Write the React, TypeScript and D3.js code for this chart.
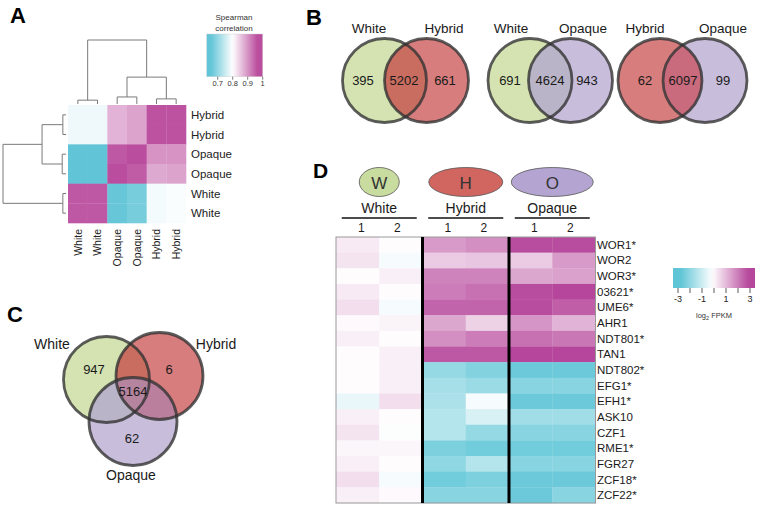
import React from 'react';
import * as d3 from 'd3';

// ---------- Panel A data ----------
const corrColLabels = ['White', 'White', 'Opaque', 'Opaque', 'Hybrid', 'Hybrid'];
const corrRowLabels = ['Hybrid', 'Hybrid', 'Opaque', 'Opaque', 'White', 'White'];
const corrValues = [
  [0.785, 0.785, 0.87, 0.885, 0.96, 0.96],
  [0.785, 0.785, 0.87, 0.885, 0.96, 0.96],
  [0.655, 0.655, 0.955, 0.965, 0.9, 0.9],
  [0.652, 0.652, 0.965, 0.952, 0.88, 0.885],
  [0.955, 0.955, 0.66, 0.675, 0.79, 0.795],
  [0.955, 0.955, 0.66, 0.675, 0.79, 0.795],
];
const corrTicks = [0.7, 0.8, 0.9, 1];
// merges: [childA, childB, height]; leaves 0..5, new nodes from 6
const colMerges = [[0, 1, 0.06], [2, 3, 0.11], [4, 5, 0.08], [7, 8, 0.42], [6, 9, 1]];
const rowMerges = [[0, 1, 0.05], [2, 3, 0.06], [4, 5, 0.05], [6, 7, 0.38], [9, 8, 1]];

// ---------- Panel B data ----------
const vennBSets = [['White', 'Hybrid'], ['White', 'Opaque'], ['Hybrid', 'Opaque']];
const vennBCounts = [[395, 5202, 661], [691, 4624, 943], [62, 6097, 99]];

// ---------- Panel C data ----------
const vennCSets = ['White', 'Hybrid', 'Opaque'];
const vennCOnly = [947, 6, 62];
const vennCAll = 5164;

// ---------- Panel D data ----------
const groups = ['White', 'Hybrid', 'Opaque'];
const groupLetters = ['W', 'H', 'O'];
const replicates = ['1', '2'];
const genes = ['WOR1*', 'WOR2', 'WOR3*', '03621*', 'UME6*', 'AHR1', 'NDT801*', 'TAN1', 'NDT802*', 'EFG1*', 'EFH1*', 'ASK10', 'CZF1', 'RME1*', 'FGR27', 'ZCF18*', 'ZCF22*'];
const fpkm = [
  [0.2, -0.1, 1.5, 1.7, 2.8, 2.8],
  [0.3, -0.3, 0.7, 0.8, 0.7, 1.5],
  [-0.1, 0.1, 1.9, 1.9, 1.3, 1.4],
  [0.2, -0.1, 2.0, 2.2, 2.8, 2.9],
  [0.4, -0.3, 2.4, 2.4, 2.8, 2.5],
  [-0.05, 0.05, 1.3, 0.6, 1.6, 1.1],
  [0.1, -0.1, 1.7, 2.0, 2.2, 2.1],
  [-0.1, 0.1, 2.6, 2.6, 2.9, 2.9],
  [-0.1, 0.1, -1.9, -2.2, -2.6, -2.6],
  [-0.1, 0.1, -1.6, -1.8, -2.1, -2.1],
  [-0.5, 0.4, -1.5, -0.3, -2.6, -2.6],
  [0.1, -0.1, -1.4, -0.8, -1.7, -1.7],
  [0.3, -0.2, -1.4, -1.9, -2.1, -2.1],
  [0.0, 0.0, -2.3, -2.5, -2.5, -2.5],
  [0.1, -0.1, -2.0, -1.4, -2.1, -2.1],
  [0.4, -0.3, -2.5, -2.3, -2.6, -2.6],
  [0.1, -0.05, -2.1, -2.1, -2.6, -2.1],
];
const fpkmTicks = [-3, -2, -1, 0, 1, 2, 3];
const fpkmTickLabels = [-3, -1, 1, 3];

const FONT = 'Liberation Sans, Arial, sans-serif';

const setFill: Record<string, string> = { White: '#d4e3b1', Hybrid: '#d77d7d', Opaque: '#c8bddb' };
const pairFill: Record<string, string> = {
  'White|Hybrid': '#c86d5f',
  'White|Opaque': '#b9b4c7',
  'Hybrid|Opaque': '#c96a7d',
};
const tripleFill = '#b5849f';

function dendroPaths(merges: number[][], leafPos: number[], hs: (h: number) => number, vertical: boolean) {
  const pos = [...leafPos];
  const hgt = leafPos.map(() => 0);
  const paths: string[] = [];
  merges.forEach(([a, b, h]) => {
    const pa = pos[a], pb = pos[b];
    if (vertical) {
      paths.push(`M${pa},${hs(hgt[a])}V${hs(h)}H${pb}V${hs(hgt[b])}`);
    } else {
      paths.push(`M${hs(hgt[a])},${pa}H${hs(h)}V${pb}H${hs(hgt[b])}`);
    }
    pos.push((pa + pb) / 2);
    hgt.push(h);
  });
  return paths;
}

function PanelA() {
  const x = d3.scaleBand<number>().domain(d3.range(6)).range([68, 186]);
  const y = d3.scaleBand<number>().domain(d3.range(6)).range([105, 223]);
  const color = d3.scaleLinear<string>().domain([0.655, 0.8, 0.965]).range(['#62c5d7', '#ffffff', '#bb4d9e']).clamp(true);
  const colPaths = dendroPaths(colMerges, d3.range(6).map(i => x(i)! + x.bandwidth() / 2), d3.scaleLinear().domain([0, 1]).range([104, 40]), true);
  const rowPaths = dendroPaths(rowMerges, d3.range(6).map(i => y(i)! + y.bandwidth() / 2), d3.scaleLinear().domain([0, 1]).range([66, 3]), false);
  const lx = d3.scaleLinear().domain([0.7, 1]).range([217.7, 262.7]);
  const lx0 = 206.7;
  const stops = d3.range(0, 1.0001, 0.05).map(t => {
    const v = lx.invert(lx0 + t * (262.7 - lx0));
    return { off: t, c: color(v) };
  });
  return (
    <g>
      <text x={10} y={23} fontSize={22} fontWeight="bold" fontFamily={FONT}>A</text>
      {corrValues.map((row, i) => row.map((v, j) => (
        <rect key={`${i}-${j}`} x={x(j)} y={y(i)} width={x.bandwidth() + 0.3} height={y.bandwidth() + 0.3} fill={color(v)} />
      )))}
      {colPaths.map((d, i) => <path key={'c' + i} d={d} fill="none" stroke="#7a7a7a" strokeWidth={1} />)}
      {rowPaths.map((d, i) => <path key={'r' + i} d={d} fill="none" stroke="#7a7a7a" strokeWidth={1} />)}
      {corrRowLabels.map((l, i) => (
        <text key={i} x={191} y={y(i)! + y.bandwidth() / 2} dy="0.35em" fontSize={11.5} fontFamily={FONT} fill="#222">{l}</text>
      ))}
      {corrColLabels.map((l, j) => (
        <text key={j} transform={`translate(${x(j)! + x.bandwidth() / 2},229) rotate(-90)`} dy="0.35em" textAnchor="end" fontSize={10.5} fontFamily={FONT} fill="#222">{l}</text>
      ))}
      <defs>
        <linearGradient id="gradA" x1="0" x2="1" y1="0" y2="0">
          {stops.map((s, i) => <stop key={i} offset={s.off} stopColor={s.c} />)}
        </linearGradient>
      </defs>
      <text x={234} y={19.5} textAnchor="middle" fontSize={8} fontFamily={FONT} fill="#333">Spearman</text>
      <text x={234} y={31} textAnchor="middle" fontSize={8} fontFamily={FONT} fill="#333">correlation</text>
      <rect x={lx0} y={34} width={262.7 - lx0} height={42.7} fill="url(#gradA)" stroke="#ccc" strokeWidth={0.4} />
      {corrTicks.map(t => (
        <g key={t}>
          <line x1={lx(t)} x2={lx(t)} y1={76.7} y2={79.7} stroke="#444" strokeWidth={0.7} />
          <text x={lx(t)} y={86} textAnchor="middle" fontSize={7.5} fontFamily={FONT} fill="#333">{t}</text>
        </g>
      ))}
    </g>
  );
}

type Circ = { cx: number; cy: number; r: number; name: string };

function Venn2({ circles, counts, numX, labelX, idx }: { circles: Circ[]; counts: number[]; numX: number[]; labelX: number[]; idx: number }) {
  const [a, b] = circles;
  const id = `clipB${idx}`;
  return (
    <g>
      <defs>
        <clipPath id={id}><circle cx={a.cx} cy={a.cy} r={a.r} /></clipPath>
      </defs>
      <circle cx={a.cx} cy={a.cy} r={a.r} fill={setFill[a.name]} />
      <circle cx={b.cx} cy={b.cy} r={b.r} fill={setFill[b.name]} />
      <circle cx={b.cx} cy={b.cy} r={b.r} fill={pairFill[`${a.name}|${b.name}`]} clipPath={`url(#${id})`} />
      <circle cx={a.cx} cy={a.cy} r={a.r} fill="none" stroke="#333" strokeOpacity={0.8} strokeWidth={2.8} />
      <circle cx={b.cx} cy={b.cy} r={b.r} fill="none" stroke="#333" strokeOpacity={0.8} strokeWidth={2.8} />
      {counts.map((c, i) => (
        <text key={i} x={numX[i]} y={a.cy} dy="0.36em" textAnchor="middle" fontSize={13} fontFamily={FONT} fill="#1a1a1a">{c}</text>
      ))}
      <text x={labelX[0]} y={33} textAnchor="middle" fontSize={13.5} fontFamily={FONT} fill="#1a1a1a">{a.name}</text>
      <text x={labelX[1]} y={33} textAnchor="middle" fontSize={13.5} fontFamily={FONT} fill="#1a1a1a">{b.name}</text>
    </g>
  );
}

function PanelB() {
  const centers = [[384.5, 426.5], [530, 570.5], [660, 705]];
  const numXs = [[363, 404, 445], [510, 550, 587], [645, 683, 723]];
  const labXs = [[369, 444], [511, 583], [645, 723]];
  return (
    <g>
      <text x={306} y={25} fontSize={22} fontWeight="bold" fontFamily={FONT}>B</text>
      {vennBSets.map((sets, i) => (
        <Venn2 key={i} idx={i}
          circles={sets.map((n, k) => ({ cx: centers[i][k], cy: 80.5, r: 42, name: n }))}
          counts={vennBCounts[i]} numX={numXs[i]} labelX={labXs[i]} />
      ))}
    </g>
  );
}

function PanelC() {
  const geo = [[106.5, 379.5, 43], [159.5, 376, 43.5], [133, 421.5, 44]];
  const c: Circ[] = vennCSets.map((n, i) => ({ cx: geo[i][0], cy: geo[i][1], r: geo[i][2], name: n }));
  const circ = (k: Circ, props: any) => <circle cx={k.cx} cy={k.cy} r={k.r} {...props} />;
  return (
    <g>
      <text x={7} y={322} fontSize={22} fontWeight="bold" fontFamily={FONT}>C</text>
      <defs>
        {c.map((k, i) => <clipPath key={i} id={`clipC${i}`}>{circ(k, {})}</clipPath>)}
      </defs>
      {c.map((k, i) => <g key={i}>{circ(k, { fill: setFill[k.name] })}</g>)}
      <g clipPath="url(#clipC0)">{circ(c[1], { fill: pairFill['White|Hybrid'] })}</g>
      <g clipPath="url(#clipC0)">{circ(c[2], { fill: pairFill['White|Opaque'] })}</g>
      <g clipPath="url(#clipC1)">{circ(c[2], { fill: '#b97f9d' })}</g>
      <g clipPath="url(#clipC0)"><g clipPath="url(#clipC1)">{circ(c[2], { fill: tripleFill })}</g></g>
      {c.map((k, i) => <g key={'s' + i}>{circ(k, { fill: 'none', stroke: '#333', strokeOpacity: 0.8, strokeWidth: 2.8 })}</g>)}
      <text x={94} y={369} dy="0.36em" textAnchor="middle" fontSize={13} fontFamily={FONT} fill="#1a1a1a">{vennCOnly[0]}</text>
      <text x={169} y={369} dy="0.36em" textAnchor="middle" fontSize={13} fontFamily={FONT} fill="#1a1a1a">{vennCOnly[1]}</text>
      <text x={132} y={438} dy="0.36em" textAnchor="middle" fontSize={13} fontFamily={FONT} fill="#1a1a1a">{vennCOnly[2]}</text>
      <text x={133} y={391} dy="0.36em" textAnchor="middle" fontSize={13} fontFamily={FONT} fill="#1a1a1a">{vennCAll}</text>
      <text x={52} y={349} textAnchor="middle" fontSize={14} fontFamily={FONT} fill="#1a1a1a">{vennCSets[0]}</text>
      <text x={216} y={349} textAnchor="middle" fontSize={14} fontFamily={FONT} fill="#1a1a1a">{vennCSets[1]}</text>
      <text x={131} y={480} textAnchor="middle" fontSize={14} fontFamily={FONT} fill="#1a1a1a">{vennCSets[2]}</text>
    </g>
  );
}

function PanelD() {
  const x0 = 336, x1 = 595.5, y0 = 237, y1 = 503;
  const x = d3.scaleBand<number>().domain(d3.range(6)).range([x0, x1]);
  const y = d3.scaleBand<number>().domain(d3.range(genes.length)).range([y0, y1]);
  const color = d3.scaleLinear<string>().domain([-2.8, -0.15, 2.9]).range(['#5fc5d6', '#ffffff', '#b6469b']).clamp(true);
  const gx = (g: number) => x(g * 2)! + x.bandwidth();
  const ell = [{ rx: 20, fill: '#c9dc9f' }, { rx: 37, fill: '#d1655f' }, { rx: 41, fill: '#b3a4d1' }];
  const lx = d3.scaleLinear().domain([-3, 3]).range([678, 750]);
  const stops = d3.range(0, 1.0001, 0.05).map(t => ({ off: t, c: color(lx.invert(673 + t * (755 - 673))) }));
  return (
    <g>
      <text x={313} y={178} fontSize={21} fontWeight="bold" fontFamily={FONT}>D</text>
      {groups.map((g, i) => (
        <g key={g}>
          <ellipse cx={gx(i)} cy={182} rx={ell[i].rx} ry={14.5} fill={ell[i].fill} stroke="#555" strokeWidth={0.8} />
          <text x={gx(i)} y={188.5} textAnchor="middle" fontSize={17} fontFamily={FONT} fill="#333">{groupLetters[i]}</text>
          <text x={gx(i)} y={213} textAnchor="middle" fontSize={14} fontFamily={FONT} fill="#1a1a1a">{g}</text>
          <line x1={gx(i) - 37.5} x2={gx(i) + 37.5} y1={218} y2={218} stroke="#111" strokeWidth={1.5} />
          {replicates.map((r, k) => (
            <text key={r} x={gx(i) + (k === 0 ? -18 : 18)} y={232} textAnchor="middle" fontSize={12} fontFamily={FONT} fill="#1a1a1a">{r}</text>
          ))}
        </g>
      ))}
      {fpkm.map((row, i) => row.map((v, j) => (
        <rect key={`${i}-${j}`} x={x(j)} y={y(i)} width={x.bandwidth() + 0.3} height={y.bandwidth() + 0.3} fill={color(v)} />
      )))}
      <rect x={x0} y={y0} width={x1 - x0} height={y1 - y0} fill="none" stroke="#999" strokeWidth={1} />
      {[1, 2].map(g => (
        <line key={g} x1={x(g * 2)} x2={x(g * 2)} y1={y0} y2={y1} stroke="#000" strokeWidth={3} />
      ))}
      {genes.map((gname, i) => (
        <text key={gname} x={597} y={y(i)! + y.bandwidth() / 2} dy="0.35em" fontSize={11.5} fontFamily={FONT} fill="#1a1a1a">{gname}</text>
      ))}
      <defs>
        <linearGradient id="gradD" x1="0" x2="1" y1="0" y2="0">
          {stops.map((s, i) => <stop key={i} offset={s.off} stopColor={s.c} />)}
        </linearGradient>
      </defs>
      <rect x={673} y={268} width={82} height={20} fill="url(#gradD)" />
      {fpkmTicks.map(t => (
        <line key={t} x1={lx(t)} x2={lx(t)} y1={288} y2={293} stroke="#333" strokeWidth={0.8} />
      ))}
      {fpkmTickLabels.map(t => (
        <text key={t} x={lx(t)} y={302} textAnchor="middle" fontSize={9} fontFamily={FONT} fill="#222">{t}</text>
      ))}
      <text x={714} y={318} textAnchor="middle" fontSize={7.5} fontFamily={FONT} fill="#333">
        log<tspan fontSize={5.5} dy={2}>2</tspan><tspan dy={-2}> FPKM</tspan>
      </text>
    </g>
  );
}

export default function App() {
  return (
    <svg width={758} height={508} viewBox="0 0 758 508" style={{ position: 'absolute', left: 0, top: 0, background: '#fff' }}>
      <rect width={758} height={508} fill="#fff" />
      <PanelA />
      <PanelB />
      <PanelC />
      <PanelD />
    </svg>
  );
}
